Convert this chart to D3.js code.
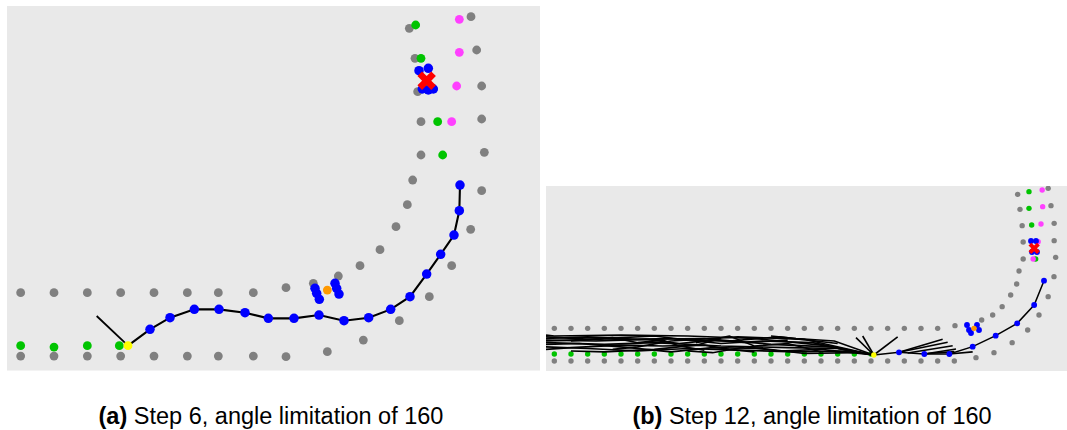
<!DOCTYPE html>
<html><head><meta charset="utf-8">
<script src="https://cdn.jsdelivr.net/npm/d3@7"></script>
<style>body{margin:0;background:#fff}svg{display:block}</style>
</head><body>
<svg id="c" width="1067" height="430"></svg>
<script>
// ---------- Panel (a) data: grid units ----------
const aGray = [[0,1.9],[1,1.9],[2,1.9],[3,1.9],[4,1.9],[5,1.9],[5.93,1.9],[6.98,1.9],[7.96,2.05],[8.78,2.18],[9.53,2.4],[10.18,2.71],[10.78,3.19],[11.26,3.88],[11.6,4.54],[11.76,5.28],[12.01,6.03],[12.01,7.03],[11.91,7.93],[11.83,8.93],[11.66,9.83],
  [0,0],[1,0],[2,0],[3,0],[4,0],[5,0],[5.93,0],[6.98,0],[7.96,-0.02],[9.2,0.13],[10.28,0.48],[11.36,1.06],[12.26,1.78],[12.93,2.71],[13.5,3.8],[13.83,4.96],[13.91,6.11],[13.83,7.11],[13.83,8.1],[13.68,9.18],[13.51,10.18]];
const aGreen = [[0,0.31],[1,0.27],[2,0.31],[2.96,0.31],[11.85,9.93],[12.01,8.93],[12.51,7.03],[12.66,6.03],[12.2,8.0]];
const aMagenta = [[13.16,10.1],[13.16,9.11],[13.08,8.1],[12.93,7.03]];
const aPath = [[3.22,0.31],[3.88,0.8],[4.48,1.15],[5.21,1.4],[5.95,1.4],[6.73,1.3],[7.43,1.13],[8.2,1.13],[8.95,1.23],[9.7,1.06],[10.44,1.15],[11.1,1.4],[11.68,1.78],[12.18,2.46],[12.6,3.05],[13.0,3.63],[13.16,4.36],[13.18,5.13]];
const aHeading = [[2.28,1.2],[3.22,0.31]];
const aBlueExtra = [[8.83,2.03],[8.88,1.88],[8.96,1.7],[9.43,2.18],[9.48,2.03],[9.55,1.86],
  [11.95,8.56],[12.23,8.63],[12.05,8.01],[12.23,7.98],[12.38,8.01]];
const aYellow = [[3.22,0.31]];
const aOrange = [[9.2,1.98]];
const aRed = [[12.18,8.26]];

// ---------- Panel (b) data: grid units ----------
const bGrayTop = [[0,1.96],[1,1.96],[2,1.96],[3,1.96],[4,1.96],[5,1.96],[6,1.96],[7,1.96],[8,1.96],[9,1.96],[10,1.96],[11,1.96],[12,1.96],[13,1.96],[14,1.96],[15,1.96],[16,1.96],[17,1.96],[18,1.96],[19,1.96],[20,1.96],[21,1.96],[22,1.96],[23,1.96],[24.04,2.12],
  [25.64,2.46],[26.3,2.76],[26.87,3.26],[27.38,3.96],[27.74,4.62],[27.88,5.4],[28.13,6.12],[28.13,7.14],[28.07,8.12],[27.94,9.1],[27.8,10.0]];
const bGrayBottom = [[0,0],[1,0],[2,0],[3,0],[4,0],[5,0],[6,0],[7,0],[8,0],[9,0],[10,0],[11,0],[12,0],[13,0],[14,0],[15,0],[16,0],[17,0],[18,0],[19,0],[20,0],[21,0],[22,0],[23,0],[24,0],[25.3,0.2],
  [26.38,0.5],[27.47,1.1],[28.4,1.86],[29.08,2.76],[29.63,3.86],[29.98,5.06],[30.08,6.22],[29.99,7.22],[29.99,8.26],[29.8,9.32],[29.63,10.36]];
const bGreen = [[0,0.42],[1,0.42],[2,0.42],[3,0.42],[4,0.42],[5,0.42],[6,0.42],[7,0.42],[8,0.42],[9,0.42],[10,0.42],[11,0.42],[12,0.42],[13,0.42],[14,0.42],[15,0.42],[16,0.42],[17,0.42],[18,0.42],[19,0.42],
  [28.48,10.16],[28.48,9.16],[28.64,8.16],[28.88,6.12]];
const bMagenta = [[29.27,10.26],[29.3,9.26],[29.2,8.22],[29.03,7.16],[28.73,6.12]];
const bPath = [[19.17,0.36],[20.68,0.52],[22.2,0.42],[23.7,0.42],[25.1,0.86],[26.48,1.52],[27.77,2.26],[28.79,3.36],[29.38,4.82]];
const bTangle = [
  [[19.17,0.36],[16.5,0.85],[13,1.0],[9,1.35],[5,1.3],[2,1.45],[-0.5,1.35]],
  [[19.17,0.36],[17,0.75],[14,0.8],[10,0.9],[6,1.1],[3,1.0],[-0.5,1.1]],
  [[19.17,0.36],[16,0.95],[12,1.35],[8,1.5],[4,1.55],[0,1.5],[-0.5,1.55]],
  [[19.17,0.36],[17.5,0.6],[14.5,0.55],[11,0.65],[8,0.75],[5,0.6],[2,0.75],[-0.5,0.85]],
  [[19.17,0.36],[15.5,1.1],[12.5,1.2],[10,1.05],[7,1.35],[3,1.25],[-0.5,1.45]],
  [[19.17,0.36],[16,0.7],[13.5,0.6],[11.5,0.85],[9.5,0.5],[8,0.6]],
  [[12,0.55],[10.5,0.7],[9,0.95],[6.5,0.9],[4,0.95],[1,0.8],[-0.5,0.7]],
  [[19.17,0.36],[15,1.3],[11,1.45],[7,1.2],[5,0.85],[3.5,0.7]],
  [[14,1.25],[11.5,1.1],[9.5,1.25],[7.5,1.05],[5.5,1.3],[2.5,1.2],[-0.5,1.25]],
  [[19.17,0.36],[16.8,1.2],[14.5,1.35],[13,1.5]],
  [[10,1.35],[8.5,0.95],[6,0.7],[3,0.55],[1,0.6]],
  [[18,0.5],[15,0.45],[12.5,0.75],[9.5,0.8],[7,0.55],[4.5,0.8],[1.5,1.05],[-0.5,1.0]],
  [[17,1.05],[13.5,1.45],[10.5,1.2],[8,1.25],[6,1.5],[2,1.3],[-0.5,1.2]],
  [[9,0.65],[7.5,0.9],[6.5,1.25],[5,1.1],[3.5,1.4],[1,1.2]],
  [[16,0.55],[14,1.05],[12,0.9],[10.5,1.5],[8.5,1.1]],
  [[19.17,0.36],[18.1,1.4]],
  [[19.17,0.36],[18.5,1.5]],
  [[19.17,0.36],[20.6,1.45]],
  [[20.68,0.52],[23.3,1.3]],
  [[20.68,0.52],[23.6,1.12]],
  [[21.2,0.48],[23.9,0.92]],
  [[22.2,0.42],[24.1,0.72]],
  [[22.4,0.45],[24.0,0.56]],
  [[23.7,0.42],[25.1,0.55]]
];
const bBlueExtra = [[24.76,2.16],[24.88,1.86],[25.0,1.68],[25.36,2.16],[25.48,1.86],
  [28.6,7.2],[28.9,7.2],[28.66,6.54],[28.96,6.54]];
const bYellow = [[19.17,0.36]];
const bOrange = [[25.18,1.96]];
const bRed = [[28.79,6.76]];

const captions = [
  {label:"(a)", text:" Step 6, angle limitation of 160"},
  {label:"(b)", text:" Step 12, angle limitation of 160"}
];

// ---------- drawing ----------
const svg = d3.select("#c");
const C = {gray:"#808080", green:"#00c400", magenta:"#ff40ff", blue:"#0000ff", yellow:"#ffff00", orange:"#ff9900", red:"#ff0000", bg:"#e9e9e9"};

function panel(id, xDom, xRng, yDom, yRng, r, lw, tw, d) {
  const x = d3.scaleLinear().domain(xDom).range(xRng);
  const y = d3.scaleLinear().domain(yDom).range(yRng);
  svg.append("clipPath").attr("id", id).append("rect")
    .attr("x", xRng[0]).attr("y", yRng[1]).attr("width", xRng[1]-xRng[0]).attr("height", yRng[0]-yRng[1]);
  const g = svg.append("g").attr("clip-path", `url(#${id})`);
  g.append("rect").attr("x", xRng[0]).attr("y", yRng[1]).attr("width", xRng[1]-xRng[0]).attr("height", yRng[0]-yRng[1]).attr("fill", C.bg);
  const dots = (arr, col, rr) => g.append("g").selectAll("circle").data(arr).join("circle")
    .attr("cx", p => x(p[0])).attr("cy", p => y(p[1])).attr("r", rr || r).attr("fill", col);
  const line = d3.line().x(p => x(p[0])).y(p => y(p[1]));
  d.gray.forEach(a => dots(a, C.gray));
  dots(d.green, C.green);
  dots(d.magenta, C.magenta);
  d.lines.forEach(l => g.append("path").attr("d", line(l)).attr("fill","none").attr("stroke","#000").attr("stroke-width", tw));
  g.append("path").attr("d", line(d.path)).attr("fill","none").attr("stroke","#000").attr("stroke-width", lw);
  dots(d.path.slice(1), C.blue, r*1.08);
  dots(d.blueExtra, C.blue, r*1.08);
  dots(d.orange, C.orange);
  dots(d.yellow, C.yellow);
  g.selectAll(".red").data(d.red).join("path")
    .attr("d", d3.symbol(d3.symbolCross, r*r*11)())
    .attr("transform", p => `translate(${x(p[0])},${y(p[1])}) rotate(45)`)
    .attr("fill", C.red);
}

panel("clipA", [-0.41, 15.58], [7, 540], [-0.44, 10.5], [370.7, 6], 4.4, 2.1, 1.8,
  {gray:[aGray], green:aGreen, magenta:aMagenta, lines:[aHeading], path:aPath, blueExtra:aBlueExtra, yellow:aYellow, orange:aOrange, red:aRed});
panel("clipB", [-0.5, 30.76], [546, 1067], [-0.6, 10.5], [371, 186], 2.7, 1.5, 1.6,
  {gray:[bGrayTop, bGrayBottom], green:bGreen, magenta:bMagenta, lines:bTangle, path:bPath, blueExtra:bBlueExtra, yellow:bYellow, orange:bOrange, red:bRed});

const capX = [271, 812];
captions.forEach((c, i) => {
  const t = svg.append("text").attr("x", capX[i]).attr("y", 424).attr("text-anchor","middle")
    .attr("font-family","'Liberation Sans', Arial, Helvetica, sans-serif").attr("font-size", 23.5).attr("fill","#000");
  t.append("tspan").attr("font-weight","bold").text(c.label);
  t.append("tspan").text(c.text);
});
</script>
</body></html>
